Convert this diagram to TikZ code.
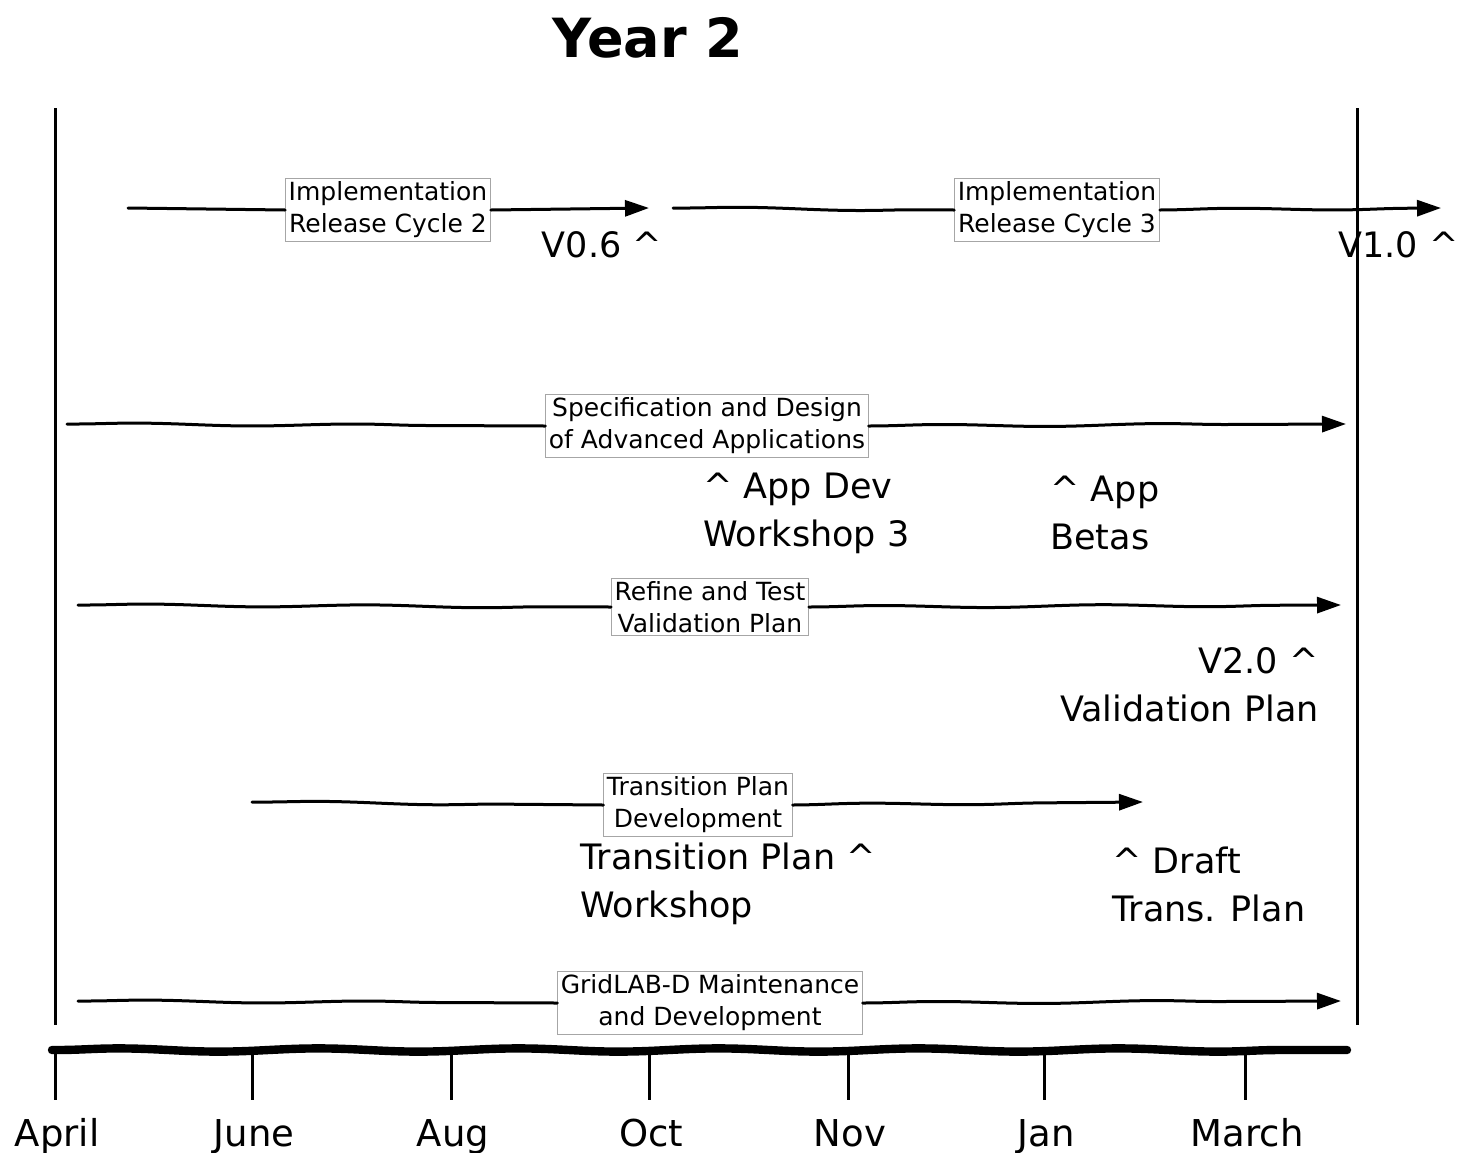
\documentclass[tikz,border=0pt]{standalone}
\usepackage{fontspec}
\setmainfont{DejaVu Sans}
\usetikzlibrary{arrows.meta,decorations.pathmorphing}
\begin{document}
\begin{tikzpicture}[x=0.5pt,y=-0.5pt,
  wobbly/.style={line width=1.5pt,line cap=round,decorate,
    decoration={snake,amplitude=0.6pt,segment length=110pt,pre length=1pt,post length=12pt}},
  bararrow/.style={wobbly,-{Triangle[length=12pt,width=8pt]}},
  taskbox/.style={draw=black!35,line width=0.5pt,fill=white,inner sep=1.5pt,align=center,
    font=\fontsize{12.5}{16}\selectfont},
  milestone/.style={inner sep=0pt,font=\fontsize{17.5}{24}\selectfont},
  month/.style={inner sep=0pt,anchor=base,font=\fontsize{18.5}{22}\selectfont},
  edge/.style={line width=1.5pt},
  tick/.style={line width=1.5pt}]
\useasboundingbox (0,0) rectangle (1462,1152);

% title
\node[font=\fontsize{27}{30}\bfseries] (title) at (648,38) {Year 2};

% year boundaries
\coordinate (ltop) at (55,108);  \coordinate (lbot) at (55,1025);
\coordinate (rtop) at (1357,108); \coordinate (rbot) at (1357,1025);
\draw[edge] (ltop) -- (lbot);
\draw[edge] (rtop) -- (rbot);

% implementation release cycles
\coordinate (r1s) at (128,208); \coordinate (r1e) at (649,208);
\coordinate (r2s) at (673,208); \coordinate (r2e) at (1441,208);
\node[taskbox] (rc2) at (388,210) {Implementation\\Release Cycle 2};
\node[taskbox] (rc3) at (1057,210) {Implementation\\Release Cycle 3};
\draw[wobbly] (r1s) -- (rc2.west);
\draw[bararrow] (rc2.east) -- (r1e);
\draw[wobbly] (r2s) -- (rc3.west);
\draw[bararrow] (rc3.east) -- (r2e);
\node[milestone] (v06) at (602,245) {V0.6 \^{}};
\node[milestone,anchor=east] (v10) at (1459,245) {V1.0 \^{}};

% specification and design
\coordinate (sds) at (67,424); \coordinate (sde) at (1346,424);
\node[taskbox] (spec) at (707,426) {Specification and Design\\of Advanced Applications};
\draw[wobbly] (sds) -- (spec.west);
\draw[bararrow] (spec.east) -- (sde);
\node[milestone,anchor=west,align=left] (appdev) at (703,513) {\^{} App Dev\\Workshop 3};
\node[milestone,anchor=west,align=left] (betas) at (1050,513) {\^{} App\\Betas};

% validation plan
\coordinate (vps) at (78,605); \coordinate (vpe) at (1341,605);
\node[taskbox] (valid) at (710,607) {Refine and Test\\Validation Plan};
\draw[wobbly] (vps) -- (valid.west);
\draw[bararrow] (valid.east) -- (vpe);
\node[milestone,anchor=east,align=right] (v20) at (1319,685) {V2.0 \^{}\\Validation Plan};

% transition plan
\coordinate (tps) at (252,802); \coordinate (tpe) at (1143,802);
\node[taskbox] (trans) at (698,805) {Transition Plan\\Development};
\draw[wobbly] (tps) -- (trans.west);
\draw[bararrow] (trans.east) -- (tpe);
\node[milestone,anchor=west,align=left] (tpws) at (580,884) {Transition Plan \^{}\\Workshop};
\node[milestone,anchor=west,align=left] (draft) at (1112,884) {\^{} Draft\\Trans. Plan};

% maintenance
\coordinate (gms) at (78,1001); \coordinate (gme) at (1341,1001);
\node[taskbox] (grid) at (710,1003) {GridLAB-D Maintenance\\and Development};
\draw[wobbly] (gms) -- (grid.west);
\draw[bararrow] (grid.east) -- (gme);

% time axis
\coordinate (axs) at (52,1050); \coordinate (axe) at (1347,1050);
\draw[line width=4.2pt,line cap=round,decorate,
  decoration={snake,amplitude=0.8pt,segment length=100pt,pre length=2pt,post length=2pt}]
  (axs) -- (axe);
\foreach \x/\m/\n in {55/April/apr,252/June/jun,451/Aug/aug,649/Oct/oct,848/Nov/nov,1044/Jan/jan,1245/March/mar}{
  \coordinate (t\n) at (\x,1050);
  \coordinate (b\n) at (\x,1100);
  \draw[tick] (t\n) -- (b\n);
  \node[month] (\n) at (\x+2,1146) {\m};
}
\end{tikzpicture}
\end{document}
